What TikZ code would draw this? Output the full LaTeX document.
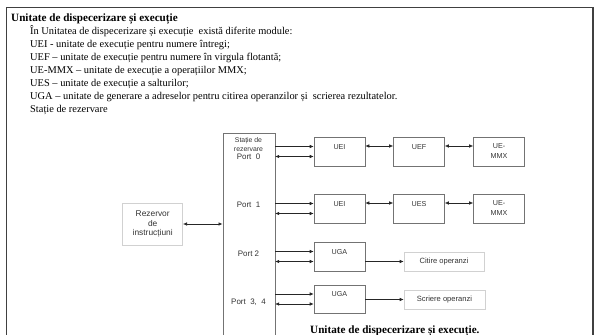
\documentclass[tikz,border=0pt]{standalone}
\usepackage{fontspec}
\setmainfont{Liberation Serif}
\newfontfamily\diagfont{Liberation Sans}
\usetikzlibrary{arrows.meta}

\begin{document}
\begin{tikzpicture}[x=1bp, y=-1bp, >={Latex[length=4bp,width=3.5bp]},
  txt/.style={font=\fontsize{10.45}{13}\selectfont, anchor=base west, inner sep=0pt},
  head/.style={txt, font=\bfseries\fontsize{11.2}{13}\selectfont},
  unit/.style={draw=black!55, line width=0.6bp, minimum width=51bp, minimum height=29bp, inner sep=0pt,
    font=\diagfont\fontsize{7.2}{10}\selectfont, text=black!80, align=center},
  hi/.style={text height=5bp, text depth=10bp},
  soft/.style={unit, draw=black!18},
  plain/.style={font=\diagfont\fontsize{8}{10}\selectfont, text=black!80, align=center, inner sep=0pt},
  arr/.style={->, line width=0.6bp, black!85},
  darr/.style={<->, line width=0.6bp, black!85}]
  \useasboundingbox (0,0) rectangle (594,334);
  % frame
  \draw[black!75, line width=1.5bp] (6.5,345) -- (6.5,7.5) -- (593,7.5) -- (593,345);
  % text
  \node[head] (title) at (11,21) {Unitate de dispecerizare și execuție};
  \foreach \t [count=\i] in {{În Unitatea de dispecerizare și execuție \ există diferite module:},
    {UEI - unitate de execuție pentru numere întregi;},
    {UEF – unitate de execuție pentru numere în virgula flotantă;},
    {UE-MMX – unitate de execuție a operațiilor MMX;},
    {UES – unitate de execuție a salturilor;},
    {UGA – unitate de generare a adreselor pentru citirea operanzilor și \ scrierea rezultatelor.},
    {Stație de rezervare}}
    \node[txt] (line\i) at (30,{21+13*\i}) {\t};
  % statie de rezervare
  \node[unit, minimum width=52bp, minimum height=215bp, anchor=north west] (res) at (222.5,133) {};
  \node[plain, font=\diagfont\fontsize{6.9}{8.8}\selectfont] (restxt) at (248.5,144.5) {Stație de\\rezervare};
  \foreach \n/\t/\y in {p0/{Port\ \ 0}/157, p1/{Port\ \ 1}/205, p2/{Port 2}/254, p3/{Port\ \ 3,\ \ 4}/302}
    \node[plain] (\n) at (248.5,\y) {\t};
  \node[soft, minimum width=60bp, minimum height=42bp, font=\diagfont\fontsize{8.4}{9.3}\selectfont] (rez) at (152.7,224) {Rezervor\\de\\instrucțiuni};
  % units
  \node[unit, hi] (ue0) at (339.5,151.5) {UEI};
  \node[unit, hi] (uf0) at (419,151.5) {UEF};
  \node[unit] (mm0) at (499,151.5) {UE-\\MMX};
  \node[unit, hi] (ui1) at (339.5,208.5) {UEI};
  \node[unit, hi] (us1) at (419,208.5) {UES};
  \node[unit] (mm1) at (499,208.5) {UE-\\MMX};
  \node[unit, hi] (ga2) at (339.5,256.5) {UGA};
  \node[unit, hi, minimum height=28bp] (ga3) at (339.5,299) {UGA};
  \node[soft, minimum width=80bp, minimum height=19bp, font=\diagfont\fontsize{7.6}{10}\selectfont] (cit) at (444,261.5) {Citire operanzi};
  \node[soft, minimum width=81bp, minimum height=19bp, font=\diagfont\fontsize{7.6}{10}\selectfont] (scr) at (444.5,299.5) {Scriere operanzi};
  % connectors
  \foreach \u in {ue0,ui1,ga2,ga3} {
    \path ([yshift=5bp]\u.west) coordinate (\u a) ([yshift=-5bp]\u.west) coordinate (\u b);
    \draw[arr] (res.east |- \u a) -- (\u a);
    \draw[darr] (res.east |- \u b) -- (\u b);
  }
  \foreach \a/\b in {ue0/uf0, uf0/mm0, ui1/us1, us1/mm1}
    \draw[darr] ([yshift=5.5bp]\a.east) -- ([yshift=5.5bp]\b.west);
  \draw[darr] (rez.east) -- (res.west |- rez.east);
  \draw[arr] (ga2.east |- cit.west) -- (cit.west);
  \draw[arr] (ga3.east |- scr.west) -- (scr.west);
  \node[head] (cap) at (310,333.5) {Unitate de dispecerizare și execuție.};
\end{tikzpicture}
\end{document}
